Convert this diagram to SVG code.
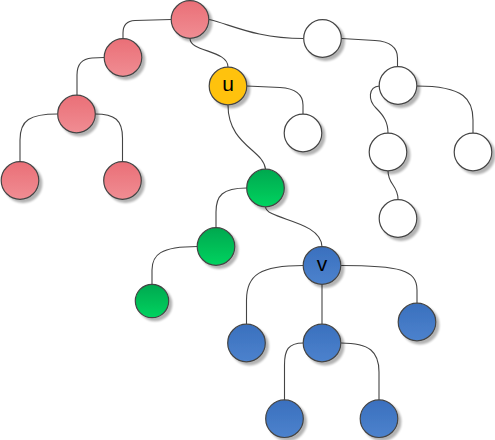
<svg xmlns="http://www.w3.org/2000/svg" width="495" height="440" viewBox="0 0 495 440">
<defs>
<linearGradient id="gRed" x1="0" y1="0" x2="0" y2="1"><stop offset="0" stop-color="#EA6F77"/><stop offset="1" stop-color="#F08D93"/></linearGradient>
<linearGradient id="gGreen" x1="0" y1="0" x2="0" y2="1"><stop offset="0" stop-color="#00A84F"/><stop offset="1" stop-color="#00D35F"/></linearGradient>
<linearGradient id="gBlue" x1="0" y1="0" x2="0" y2="1"><stop offset="0" stop-color="#3A70BE"/><stop offset="1" stop-color="#4C82CD"/></linearGradient>
<filter id="sh" x="-20%" y="-20%" width="150%" height="150%"><feGaussianBlur in="SourceAlpha" stdDeviation="1"/><feOffset dx="2.5" dy="2.5"/><feComponentTransfer><feFuncA type="linear" slope="0.3"/></feComponentTransfer><feMerge><feMergeNode/><feMergeNode in="SourceGraphic"/></feMerge></filter>
</defs>
<style>
.n{stroke:#444;stroke-width:1.2;filter:url(#sh)}
.red{fill:url(#gRed)}
.green{fill:url(#gGreen)}
.blue{fill:url(#gBlue)}
.yel{fill:#FFC20E}
.wht{fill:#FFFFFF}
.e{fill:none;stroke:#444;stroke-width:1.1}
.lbl{font-family:"Liberation Sans",Arial,sans-serif;font-size:21px;fill:#000;text-anchor:middle}
</style>
<g id="edges">
<path class="e" d="M171,19.5 L135,20.5 Q123,21 123,33 L123,38.5"/>
<path class="e" d="M190,38.5 C190,52 228,50 228,67"/>
<path class="e" d="M209,19.5 C230,24 255,38.5 303.5,38.5"/>
<path class="e" d="M341.5,38.5 L375,40.5 Q397.5,42 397.5,58 L397.5,66.7"/>
<path class="e" d="M246.7,86 L280,87.5 Q303,89 303,105 L303,114"/>
<path class="e" d="M228,105 C228,145 264,150 265.5,169.3"/>
<path class="e" d="M379.5,86 C368,87 368,100 376,108 C384,116 388,122 388,133.3"/>
<path class="e" d="M416.7,86 C465,86 473,100 473,120 L473,133.3"/>
<path class="e" d="M388,170.7 C388,185 398,185 398,199.3"/>
<path class="e" d="M104,57.5 L92,58 Q77,59 77,75 L77,95.7"/>
<path class="e" d="M57.3,114 C30,114 20,120 20,140 L20,161.7"/>
<path class="e" d="M95,114 C115,114 122.5,120 122.5,138 L122.5,161.7"/>
<path class="e" d="M246.7,188 C222,188 216,196 216,212 L216,227.7"/>
<path class="e" d="M265.5,206.7 C266,220 321,220 322,246.7"/>
<path class="e" d="M197.3,246.5 C160,246.5 152,255 152,270 L152,284.3"/>
<path class="e" d="M303.3,265.5 C260,265.5 246.5,275 246.5,300 L246.5,324"/>
<path class="e" d="M322,284.3 L322,324"/>
<path class="e" d="M341,265.5 C400,265.5 417,270 417,290 L417,303.3"/>
<path class="e" d="M303.3,343 C288,343 284.5,350 284.5,365 L284.5,400"/>
<path class="e" d="M341,343 C370,343 379,352 379,372 L379,400"/>
</g>
<g id="r1"><circle class="n red" cx="190" cy="19.5" r="18.8"/></g>
<g id="r2"><circle class="n red" cx="123" cy="57.5" r="18.8"/></g>
<g id="r3"><circle class="n red" cx="76.5" cy="114" r="18.8"/></g>
<g id="r4"><circle class="n red" cx="20" cy="180.5" r="18.8"/></g>
<g id="r5"><circle class="n red" cx="122.5" cy="180.5" r="18.8"/></g>
<g id="u"><circle class="n yel" cx="228" cy="86" r="18.8"/><text class="lbl" x="228" y="91">u</text></g>
<g id="w1"><circle class="n wht" cx="322.5" cy="38.5" r="18.8"/></g>
<g id="w2"><circle class="n wht" cx="398" cy="85.5" r="18.8"/></g>
<g id="w3"><circle class="n wht" cx="303" cy="133" r="18.8"/></g>
<g id="w4"><circle class="n wht" cx="388" cy="152" r="18.8"/></g>
<g id="w5"><circle class="n wht" cx="473" cy="152" r="18.8"/></g>
<g id="w6"><circle class="n wht" cx="398" cy="218.5" r="18.8"/></g>
<g id="g1"><circle class="n green" cx="265.5" cy="188" r="18.8"/></g>
<g id="g2"><circle class="n green" cx="216" cy="246.5" r="18.8"/></g>
<g id="g3"><circle class="n green" cx="152" cy="301" r="16.7"/></g>
<g id="v"><circle class="n blue" cx="322" cy="265.5" r="18.8"/><text class="lbl" x="322" y="271.3">v</text></g>
<g id="b1"><circle class="n blue" cx="246.5" cy="343" r="18.8"/></g>
<g id="b2"><circle class="n blue" cx="322" cy="343" r="18.8"/></g>
<g id="b3"><circle class="n blue" cx="417" cy="322" r="18.8"/></g>
<g id="b4"><circle class="n blue" cx="284.5" cy="418.7" r="18.8"/></g>
<g id="b5"><circle class="n blue" cx="379" cy="418.7" r="18.8"/></g>
</svg>
